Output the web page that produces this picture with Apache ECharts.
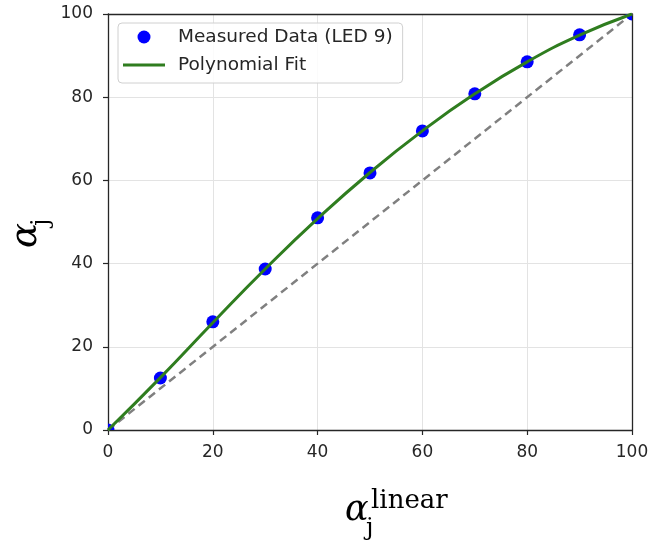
<!DOCTYPE html>
<html><head><meta charset="utf-8">
<script src="https://cdn.jsdelivr.net/npm/echarts@6/dist/echarts.min.js"></script>
<style>html,body{margin:0;padding:0;background:#fff}#c{width:652px;height:543px}</style>
</head><body><div id="c"></div>
<script>
const xLinear = [0,10,20,30,40,50,60,70,80,90,100];
const measured = [0,12.5,26.0,38.7,51.0,61.8,71.9,80.8,88.5,95.0,100];
const fitX = [0,10,20,30,40,50,60,70,80,90,100];
const fitY = [0,12.6,25.8,38.7,50.8,61.9,71.9,80.8,88.5,94.9,100];
const identityX = [0,100];
const identityY = [0,100];
const xTicks = [0,20,40,60,80,100];
const yTicks = [0,20,40,60,80,100];

const chart = echarts.init(document.getElementById('c'));
const labelFont = 'DejaVu Sans';
const axisColor = '#262626';
const gridColor = '#e3e3e3';

const pts = xLinear.map((x,i)=>[x,measured[i]]);
const fit = fitX.map((x,i)=>[x,fitY[i]]);
const ident = identityX.map((x,i)=>[x,identityY[i]]);

chart.setOption({
  animation:false,
  backgroundColor:'#fff',
  grid:{left:108,right:20,top:14,bottom:113,containLabel:false},
  xAxis:[{
    type:'value',min:xTicks[0],max:xTicks[xTicks.length-1],interval:20,
    axisLine:{show:true,lineStyle:{color:axisColor,width:1.3}},
    axisTick:{show:true,length:5,lineStyle:{color:axisColor,width:1.2}},
    axisLabel:{fontFamily:labelFont,fontSize:17,color:'#262626',margin:14},
    splitLine:{show:true,lineStyle:{color:gridColor,width:1}}
  },{
    type:'value',position:'top',min:0,max:100,
    axisLine:{show:true,onZero:false,lineStyle:{color:axisColor,width:1.3}},
    axisTick:{show:false},axisLabel:{show:false},splitLine:{show:false}
  }],
  yAxis:[{
    type:'value',min:yTicks[0],max:yTicks[yTicks.length-1],interval:20,
    axisLine:{show:true,lineStyle:{color:axisColor,width:1.3}},
    axisTick:{show:true,length:5,lineStyle:{color:axisColor,width:1.2}},
    axisLabel:{fontFamily:labelFont,fontSize:17,color:'#262626',margin:15},
    splitLine:{show:true,lineStyle:{color:gridColor,width:1}}
  },{
    type:'value',position:'right',min:0,max:100,
    axisLine:{show:true,onZero:false,lineStyle:{color:axisColor,width:1.3}},
    axisTick:{show:false},axisLabel:{show:false},splitLine:{show:false}
  }],
  legend:{
    orient:'vertical',left:118,top:23,
    padding:[4,10,8,5],
    itemWidth:42,itemHeight:13,itemGap:8,
    symbolKeepAspect:true,
    borderColor:'#d0d0d0',borderWidth:1,borderRadius:4,backgroundColor:'rgba(255,255,255,0.85)',
    textStyle:{fontFamily:labelFont,fontSize:18.5,lineHeight:20,color:'#262626',padding:[0,0,0,8]},
    data:[
      {name:'Measured Data (LED 9)',icon:'circle',itemStyle:{color:'#0000ff'}},
      {name:'Polynomial Fit',icon:'path://M0,0L42,0L42,3L0,3Z',itemStyle:{color:'#2f7d1f'}}
    ]
  },
  series:[
    {
      name:'identity',type:'line',data:ident,symbol:'none',
      lineStyle:{color:'#808080',width:2.5,type:[8,5]},z:2
    },
    {
      name:'Measured Data (LED 9)',type:'custom',data:pts,z:3,clip:true,
      itemStyle:{color:'#0000ff'},
      renderItem:function(params,api){
        const p = api.coord([api.value(0),api.value(1)]);
        return {type:'circle',shape:{cx:p[0],cy:p[1],r:6.5},style:{fill:'#0000ff'}};
      }
    },
    {
      name:'Polynomial Fit',type:'line',data:fit,smooth:0.5,symbol:'none',z:4,
      lineStyle:{color:'#2f7d1f',width:3},itemStyle:{color:'#2f7d1f'}
    }
  ],
  graphic:[
    {type:'group',x:345,y:528,children:[
      {type:'text',x:0,y:0,style:{text:'α',font:'italic 35px "DejaVu Serif"',fill:'#000',verticalAlign:'bottom'}},
      {type:'text',x:21,y:13,style:{text:'j',font:'24px "DejaVu Serif"',fill:'#000',verticalAlign:'bottom'}},
      {type:'text',x:26,y:-14,style:{text:'linear',font:'26px "DejaVu Serif"',fill:'#000',verticalAlign:'bottom'}}
    ]},
    {type:'group',x:45,y:248,rotation:Math.PI/2,children:[
      {type:'text',x:0,y:0,style:{text:'α',font:'italic 37px "DejaVu Serif"',fill:'#000',verticalAlign:'bottom'}},
      {type:'text',x:22,y:9,style:{text:'j',font:'24px "DejaVu Serif"',fill:'#000',verticalAlign:'bottom'}}
    ]}
  ]
});
</script></body></html>
